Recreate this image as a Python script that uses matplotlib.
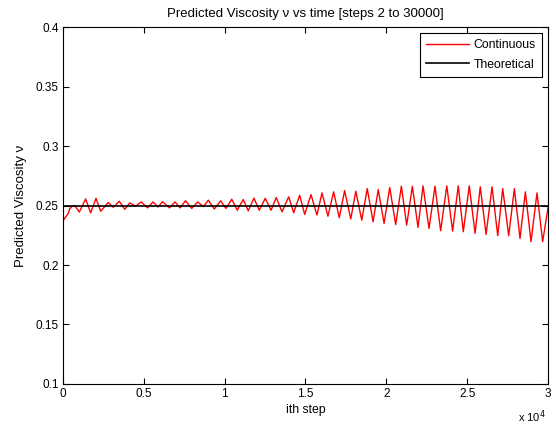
import numpy as np
import matplotlib
matplotlib.use("Agg")
import matplotlib.pyplot as plt
from matplotlib.ticker import FuncFormatter

# predicted viscosity (local peaks / troughs)
steps = [2, 120, 310, 430, 560, 740, 1010, 1400, 1710, 2040, 2330, 2800, 3110,
         3480, 3820, 4130, 4480, 4840, 5230, 5570, 5880, 6150, 6590, 6930, 7240,
         7580, 7960, 8330, 8680, 8990, 9360, 9750, 10080, 10440, 10780, 11150,
         11460, 11810, 12140, 12510, 12870, 13190, 13550, 13960, 14270, 14640,
         14950, 15340, 15710, 16020, 16390, 16740, 17090, 17420, 17800, 18110,
         18480, 18820, 19180, 19500, 19860, 20210, 20580, 20930, 21260, 21610,
         21960, 22270, 22640, 23010, 23360, 23740, 24100, 24450, 24760, 25130,
         25490, 25810, 26170, 26540, 26890, 27200, 27570, 27920, 28270, 28600,
         28950, 29320, 29670, 30000]
viscosity = [0.2370, 0.2395, 0.2430, 0.2475, 0.2495, 0.2498, 0.2445, 0.2555,
             0.2438, 0.2560, 0.2452, 0.2525, 0.2485, 0.2536, 0.2468, 0.2522,
             0.2494, 0.2530, 0.2480, 0.2530, 0.2487, 0.2532, 0.2480, 0.2530,
             0.2480, 0.2540, 0.2475, 0.2530, 0.2490, 0.2545, 0.2470, 0.2540,
             0.2475, 0.2553, 0.2460, 0.2550, 0.2455, 0.2562, 0.2460, 0.2560,
             0.2460, 0.2567, 0.2447, 0.2573, 0.2439, 0.2586, 0.2425, 0.2592,
             0.2420, 0.2606, 0.2410, 0.2615, 0.2397, 0.2625, 0.2387, 0.2620,
             0.2377, 0.2642, 0.2363, 0.2634, 0.2349, 0.2651, 0.2340, 0.2662,
             0.2335, 0.2662, 0.2316, 0.2665, 0.2307, 0.2662, 0.2288, 0.2665,
             0.2285, 0.2665, 0.2280, 0.2665, 0.2266, 0.2657, 0.2257, 0.2657,
             0.2246, 0.2642, 0.2246, 0.2642, 0.2223, 0.2615, 0.2196, 0.2606,
             0.2196, 0.2480]
theoretical = 0.25
x_range = [0, 30000]

plt.rcParams['font.family'] = ['Liberation Sans', 'DejaVu Sans']
plt.rcParams['font.size'] = 8

fig = plt.figure(figsize=(5.56, 4.26), dpi=100)
ax = fig.add_axes([0.1133, 0.0986, 0.8723, 0.838])

ax.plot(steps, viscosity, color='red', lw=1.0, label='Continuous')
ax.plot(x_range, [theoretical, theoretical], color='black', lw=1.2,
        label='Theoretical')

ax.set_xlim(0, 30000)
ax.set_ylim(0.1, 0.4)
ax.set_xticks(np.arange(0, 30001, 5000))
ax.set_yticks(np.arange(0.1, 0.4001, 0.05))
ax.xaxis.set_major_formatter(FuncFormatter(lambda v, p: f"{v/1e4:g}"))
ax.yaxis.set_major_formatter(FuncFormatter(lambda v, p: f"{v:g}"))
ax.tick_params(direction='in', top=True, right=True, length=4, width=0.8,
               labelsize=8.5, pad=3)
for s in ax.spines.values():
    s.set_linewidth(0.8)

ax.text(0.995, -0.105, r"x 10$^4$", transform=ax.transAxes, ha='right',
        va='baseline', fontsize=8)
ax.set_xlabel('ith step', fontsize=8.8, labelpad=3)
ax.set_ylabel('Predicted Viscosity ν', fontsize=9.5, labelpad=6)
ax.set_title('Predicted Viscosity ν vs time [steps 2 to 30000]', fontsize=9.5,
             pad=7)

leg = ax.legend(loc='upper right', fontsize=8.8, fancybox=False,
                edgecolor='black', framealpha=1, handlelength=3.5,
                borderaxespad=0.5, labelspacing=0.6, borderpad=0.5,
                handletextpad=0.4)
leg.get_frame().set_linewidth(0.8)

fig.savefig('out.png', dpi=100)
